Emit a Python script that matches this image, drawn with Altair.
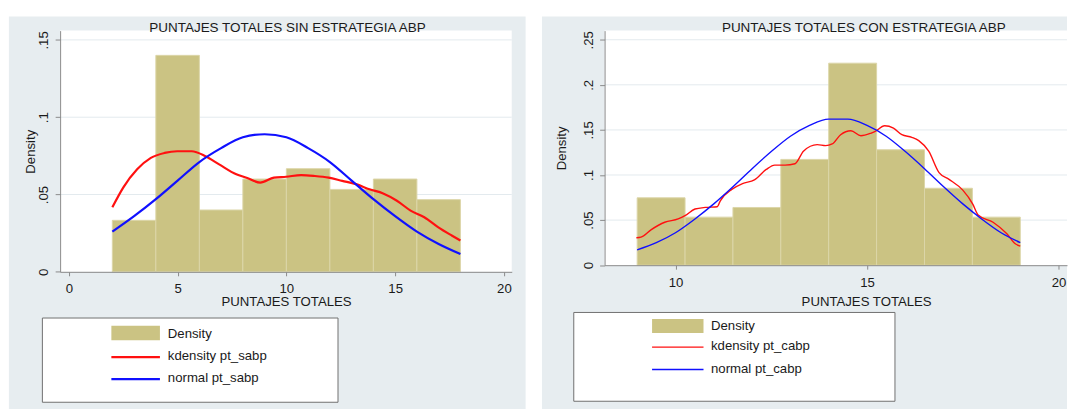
import altair as alt
import pandas as pd

FONT = "Liberation Sans"
TXT = "#1a1a1a"
AXC = "#8a8a8a"
BG = "#E7EDF0"
GRIDC = "#E3EAEE"
KHAKI = "#CBC383"
BAR_EDGE = "#DCD6A8"
RED = "#FF1010"
BLUE = "#1010FF"
LEG_STROKE = "#6f6f6f"
FS = 13.3
TFS = 13.6

# ---------------- left panel data ----------------
L_TITLE = "PUNTAJES TOTALES SIN ESTRATEGIA ABP"
L_BIN_EDGES = [2, 4, 6, 8, 10, 12, 14, 16, 18]
L_DENS = [0.0333, 0.14, 0.04, 0.06, 0.0667, 0.0533, 0.06, 0.0467]
L_KD_X = [2.0, 2.5, 3.14, 3.77, 4.4, 4.98, 5.65, 6.28, 6.91, 7.7, 8.17, 8.8, 9.43, 9.99,
          10.68, 11.31, 11.94, 12.57, 13.2, 13.82, 14.45, 15.08, 15.71, 16.34, 16.97, 17.6, 18.0]
L_KD_Y = [0.0417, 0.0545, 0.0663, 0.0737, 0.0769, 0.078, 0.078, 0.0748, 0.0695, 0.0631, 0.0609,
          0.0577, 0.0609, 0.0615, 0.0626, 0.062, 0.0609, 0.0588, 0.0567, 0.0534, 0.0507, 0.046,
          0.0396, 0.0353, 0.0289, 0.0235, 0.0203]
L_NORM_X = [2, 3, 4, 5, 6, 7, 8, 9, 10, 11, 12, 13, 14, 15, 16, 17, 18]
L_NORM_Y = [0.026, 0.036, 0.047, 0.059, 0.071, 0.080, 0.087, 0.089, 0.087, 0.080, 0.071,
            0.059, 0.047, 0.036, 0.026, 0.018, 0.0115]
L_XTICKS = [0, 5, 10, 15, 20]
L_YTICKS = [0, 0.05, 0.1, 0.15]
L_YLABELS = ["0", ".05", ".1", ".15"]
L_LEGEND = ["Density", "kdensity pt_sabp", "normal pt_sabp"]

# ---------------- right panel data ----------------
R_TITLE = "PUNTAJES TOTALES CON ESTRATEGIA ABP"
R_BIN_EDGES = [9, 10.25, 11.5, 12.75, 14, 15.25, 16.5, 17.75, 19]
R_DENS = [0.0747, 0.0533, 0.064, 0.1173, 0.224, 0.128, 0.0853, 0.0533]
R_KD_X = [8.98, 9.10, 9.36, 9.72, 10.07, 10.25, 10.51, 10.78, 11.09, 11.17, 11.48, 11.75,
          12.06, 12.37, 12.59, 12.86, 13.12, 13.34, 13.70, 13.92, 14.09, 14.31, 14.58, 14.84,
          15.11, 15.2, 15.46, 15.69, 15.91, 16.17, 16.35, 16.61, 16.88, 17.14, 17.50, 17.76,
          17.90, 18.29, 18.65, 18.87, 19.0]
R_KD_Y = [0.0304, 0.0311, 0.0392, 0.0476, 0.0513, 0.0549, 0.0623, 0.0641, 0.0648, 0.0714,
          0.0843, 0.0905, 0.0945, 0.1062, 0.111, 0.111, 0.1125, 0.1264, 0.1337, 0.1326, 0.1344,
          0.1447, 0.1491, 0.1436, 0.1465, 0.148, 0.1546, 0.152, 0.1447, 0.1418, 0.1381, 0.1264,
          0.1026, 0.0952, 0.0832, 0.0678, 0.0557, 0.0476, 0.0348, 0.0238, 0.0212]
R_NORM_X = [9, 9.5, 10, 10.5, 11, 11.5, 12, 12.5, 13, 13.5, 14, 14.5, 15, 15.5, 16, 16.5,
            17, 17.5, 18, 18.5, 19]
R_NORM_Y = [0.017, 0.025, 0.036, 0.051, 0.068, 0.087, 0.107, 0.126, 0.143, 0.155, 0.162,
            0.162, 0.155, 0.143, 0.126, 0.107, 0.087, 0.068, 0.051, 0.036, 0.025]
R_XTICKS = [10, 15, 20]
R_YTICKS = [0, 0.05, 0.1, 0.15, 0.2, 0.25]
R_YLABELS = ["0", ".05", ".1", ".15", ".2", ".25"]
R_LEGEND = ["Density", "kdensity pt_cabp", "normal pt_cabp"]

X_TITLE = "PUNTAJES TOTALES"
Y_TITLE = "Density"

# ---------------- geometry (pixels, relative to each plot area) ----------------
LCFG = dict(W=455.7, H=243.4, xdom=[-0.40, 20.36], ydom=[0, 0.156], lw=2.2,
            xlabpad=12.6, ylabpad=12, xtitle_x=228, xtitle_y=30, ytitle_x=-30,
            gray=(-51.7, 469.7, -14.3, 381.7), title_xy=(229.4, -2.8),
            box=(-17.9, 280.4, 290, 375), sw=(51.7, 100.7, 297.7, 312.4),
            leg_line_y=(329.4, 351.7), txt_x=108.7, txt_y=(306, 328.4, 351))
RCFG = dict(W=466.6, H=236.7, xdom=[8.15, 20.22], ydom=[0, 0.2601], lw=1.4,
            xlabpad=13, ylabpad=11.4, xtitle_x=263.9, xtitle_y=36.7, ytitle_x=-43.8,
            gray=(-63.2, 466.6, -14.3, 381.7), title_xy=(261.6, -2.4),
            box=(-31.1, 293, 284.4, 374), sw=(47.9, 99.8, 291, 305),
            leg_line_y=(319.4, 342), txt_x=107.4, txt_y=(298.4, 318.7, 341.4))


def panel(title, edges, dens, kdx, kdy, nx, ny, xticks, yticks, ylabels, legend, c):
    W, H = c["W"], c["H"]
    xs = alt.Scale(domain=c["xdom"], nice=False, zero=False)
    ys = alt.Scale(domain=c["ydom"], nice=False, zero=False)
    lab_expr = " : ".join(f"datum.value == {v} ? '{t}'" for v, t in zip(yticks, ylabels)) + " : ''"
    common = dict(grid=False, zindex=1, domainColor=AXC, tickColor=AXC, domainWidth=1,
                  tickWidth=1, labelFont=FONT, labelFontSize=FS, labelColor=TXT,
                  labelFlush=False, labelOverlap=False, titleFont=FONT, titleFontSize=FS,
                  titleFontWeight="normal", titleColor=TXT, titleAlign="center",
                  titleBaseline="middle")
    xaxis = alt.Axis(values=xticks, title=X_TITLE, tickSize=4, labelPadding=c["xlabpad"],
                     labelBaseline="middle", labelAlign="center", labelAngle=0,
                     titleX=c["xtitle_x"], titleY=c["xtitle_y"], **common)
    yaxis = alt.Axis(values=yticks, labelExpr=lab_expr, title=Y_TITLE, tickSize=5,
                     labelPadding=c["ylabpad"], labelAngle=270, labelAlign="center",
                     labelBaseline="middle", titleAngle=270, titleX=c["ytitle_x"],
                     titleY=H / 2, **common)

    one = pd.DataFrame({"k": [0]})
    g = c["gray"]
    gray = alt.Chart(one).mark_rect(color=BG).encode(
        x=alt.value(g[0]), x2=alt.value(g[1]), y=alt.value(g[2]), y2=alt.value(g[3]))
    white = alt.Chart(one).mark_rect(color="white").encode(
        x=alt.value(0), x2=alt.value(W), y=alt.value(0), y2=alt.value(H))

    grid = alt.Chart(pd.DataFrame({"g": yticks[1:]})).mark_rule(
        color=GRIDC, strokeWidth=1).encode(
        y=alt.Y("g:Q", scale=ys, axis=yaxis), x=alt.value(0), x2=alt.value(W))

    bars_df = pd.DataFrame({"x0": edges[:-1], "x1": edges[1:], "dens": dens})
    bars = alt.Chart(bars_df).mark_rect(color=KHAKI, stroke=BAR_EDGE, strokeWidth=1).encode(
        x=alt.X("x0:Q", scale=xs, axis=xaxis), x2="x1:Q",
        y=alt.Y("dens:Q", scale=ys, axis=yaxis), y2=alt.Y2(datum=0))

    lines_df = pd.concat([
        pd.DataFrame({"x": kdx, "y": kdy, "kind": "kdensity"}),
        pd.DataFrame({"x": nx, "y": ny, "kind": "normal"}),
    ])
    lines = alt.Chart(lines_df).mark_line(strokeWidth=c["lw"], interpolate="monotone").encode(
        x=alt.X("x:Q", scale=xs, axis=xaxis), y=alt.Y("y:Q", scale=ys, axis=yaxis),
        color=alt.Color("kind:N", scale=alt.Scale(domain=["kdensity", "normal"],
                                                  range=[RED, BLUE]), legend=None))

    b = c["box"]
    box = alt.Chart(one).mark_rect(fill="white", stroke=LEG_STROKE, strokeWidth=1).encode(
        x=alt.value(b[0]), x2=alt.value(b[1]), y=alt.value(b[2]), y2=alt.value(b[3]))
    s = c["sw"]
    swatch = alt.Chart(one).mark_rect(color=KHAKI).encode(
        x=alt.value(s[0]), x2=alt.value(s[1]), y=alt.value(s[2]), y2=alt.value(s[3]))
    leg_lines = []
    for col, yy in zip([RED, BLUE], c["leg_line_y"]):
        leg_lines.append(alt.Chart(one).mark_rule(color=col, strokeWidth=c["lw"]).encode(
            x=alt.value(s[0]), x2=alt.value(s[1]), y=alt.value(yy)))
    texts = []
    for lab, yy in zip(legend, c["txt_y"]):
        texts.append(alt.Chart(pd.DataFrame({"t": [lab]})).mark_text(
            font=FONT, fontSize=FS, color=TXT, align="left", baseline="middle").encode(
            text="t:N", x=alt.value(c["txt_x"]), y=alt.value(yy)))
    tt = alt.Chart(pd.DataFrame({"t": [title]})).mark_text(
        font=FONT, fontSize=TFS, color=TXT, align="center", baseline="middle").encode(
        text="t:N", x=alt.value(c["title_xy"][0]), y=alt.value(c["title_xy"][1]))

    return alt.layer(gray, white, grid, bars, lines, box, swatch, *leg_lines, *texts, tt
                     ).properties(width=W, height=H)


left = panel(L_TITLE, L_BIN_EDGES, L_DENS, L_KD_X, L_KD_Y, L_NORM_X, L_NORM_Y,
             L_XTICKS, L_YTICKS, L_YLABELS, L_LEGEND, LCFG)
right = panel(R_TITLE, R_BIN_EDGES, R_DENS, R_KD_X, R_KD_Y, R_NORM_X, R_NORM_Y,
              R_XTICKS, R_YTICKS, R_YLABELS, R_LEGEND, RCFG)

chart = alt.hconcat(left, right, spacing=93.4, bounds="flush").properties(
    padding={"left": 0.6, "top": 6, "right": 0, "bottom": 0},
    background="white",
).configure_view(strokeWidth=0)

chart.save("out.html", embed_options={"renderer": "svg", "actions": False})
